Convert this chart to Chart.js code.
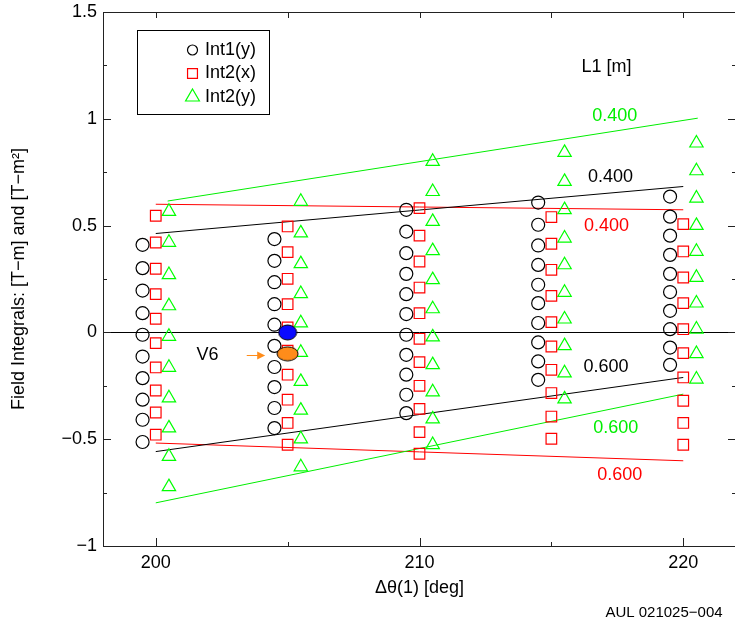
<!DOCTYPE html>
<html><head><meta charset="utf-8">
<script src="https://cdn.jsdelivr.net/npm/chart.js@4/dist/chart.umd.min.js"></script>
<style>
html,body{margin:0;padding:0;background:#fff;overflow:hidden;}
#wrap{position:relative;width:745px;height:628px;}
</style></head><body>
<div id="wrap"><canvas id="c"></canvas></div>
<script>
// ---- data ----
const int1yX = [199.5, 204.5, 209.5, 214.5, 219.5];
const int2xX = [200, 205, 210, 215, 220];
const int2yX = [200.5, 205.5, 210.5, 215.5, 220.5];

const int1y = [
  [0.41, 0.301, 0.196, 0.09, -0.011, -0.113, -0.214, -0.315, -0.409, -0.513],
  [0.437, 0.335, 0.235, 0.132, 0.036, -0.063, -0.162, -0.256, -0.354, -0.448],
  [0.574, 0.472, 0.371, 0.274, 0.179, 0.086, -0.011, -0.105, -0.198, -0.292, -0.378],
  [0.608, 0.504, 0.407, 0.316, 0.223, 0.137, 0.044, -0.047, -0.136, -0.222],
  [0.636, 0.542, 0.453, 0.363, 0.274, 0.189, 0.101, 0.015, -0.071, -0.152]
];
const int2x = [
  [0.546, 0.421, 0.298, 0.179, 0.064, -0.05, -0.164, -0.272, -0.375, -0.479],
  [0.496, 0.376, 0.251, 0.132, 0.023, -0.086, -0.198, -0.315, -0.424, -0.526],
  [0.582, 0.453, 0.332, 0.21, 0.09, -0.03, -0.139, -0.25, -0.358, -0.467, -0.568],
  [0.54, 0.415, 0.293, 0.171, 0.048, -0.066, -0.175, -0.284, -0.394, -0.498],
  [0.507, 0.379, 0.257, 0.137, 0.015, -0.097, -0.211, -0.32, -0.424, -0.526]
];
const int2y = [
  [0.566, 0.421, 0.27, 0.124, -0.019, -0.164, -0.307, -0.448, -0.581, -0.723],
  [0.613, 0.465, 0.321, 0.181, 0.044, -0.094, -0.23, -0.365, -0.499, -0.63],
  [0.8, 0.659, 0.519, 0.382, 0.246, 0.11, -0.022, -0.152, -0.279, -0.406, -0.526],
  [0.842, 0.706, 0.574, 0.441, 0.316, 0.187, 0.062, -0.063, -0.19, -0.312],
  [0.886, 0.756, 0.628, 0.5, 0.379, 0.257, 0.137, 0.015, -0.1, -0.219]
];

// fitted lines, L1 = 0.400 and 0.600 m  ([x0, x1], [y0, y1])
const lineGreen400X = [200.45, 220.55], lineGreen400Y = [0.615, 1.003];
const lineBlack400X = [200, 220],       lineBlack400Y = [0.463, 0.683];
const lineRed400X   = [200, 220],       lineRed400Y   = [0.600, 0.574];
const lineBlack600X = [200, 220],       lineBlack600Y = [-0.558, -0.211];
const lineGreen600X = [200, 220],       lineGreen600Y = [-0.798, -0.289];
const lineRed600X   = [200, 220],       lineRed600Y   = [-0.518, -0.601];

// V6 points
const v6BlueX = [205], v6BlueY = [0.0];
const v6OrangeX = [205], v6OrangeY = [-0.10];

// tick labels
const xTickLabels = ['200', '210', '220'];
const yTickLabels = ['1.5', '1', '0.5', '0', '\u22120.5', '\u22121'];

// annotation texts [text, x, y, color]
const lineLabels = [
  ['L1 [m]', 217.09, 1.241, '#000000'],
  ['0.400', 217.4, 1.015, '#00ee00'],
  ['0.400', 217.24, 0.727, '#000000'],
  ['0.400', 217.09, 0.499, '#ff0000'],
  ['0.600', 217.07, -0.164, '#000000'],
  ['0.600', 217.44, -0.448, '#00ee00'],
  ['0.600', 217.59, -0.666, '#ff0000']
];
const v6Label = ['V6', 201.96, -0.105];
const v6ArrowX = [203.45, 204.15], v6ArrowY = -0.105;

// ---- build ----
const FONT = "'Liberation Sans', Arial, Helvetica, sans-serif";
Chart.defaults.font.family = FONT;
Chart.defaults.font.size = 18;
Chart.defaults.color = '#000';

function pts(xs, groups) {
  const out = [];
  groups.forEach((vals, g) => vals.forEach(v => out.push({x: xs[g], y: v})));
  return out;
}
function seg(xs, ys) { return [{x: xs[0], y: ys[0]}, {x: xs[1], y: ys[1]}]; }
function ellipse(w, h, fill) {
  const c = document.createElement('canvas');
  c.width = w + 2; c.height = h + 2;
  const g = c.getContext('2d');
  g.beginPath();
  g.ellipse(c.width / 2, c.height / 2, w / 2, h / 2, 0, 0, Math.PI * 2);
  g.fillStyle = fill; g.fill();
  g.lineWidth = 1; g.strokeStyle = '#000'; g.stroke();
  return c;
}

function lineDS(xs, ys, color) {
  return {data: seg(xs, ys), showLine: true, borderColor: color, borderWidth: 1,
          pointRadius: 0, pointHoverRadius: 0, fill: false};
}

const decor = {
  id: 'decor',
  beforeDatasetsDraw(chart) {
    const {ctx, chartArea: a, scales: {x, y}} = chart;
    ctx.save();
    ctx.strokeStyle = '#000'; ctx.lineWidth = 1;
    const y0 = Math.round(y.getPixelForValue(0)) + 0.5;
    ctx.beginPath(); ctx.moveTo(a.left, y0); ctx.lineTo(a.right, y0); ctx.stroke();
    ctx.restore();
  },
  afterDatasetsDraw(chart) {
    const {ctx, chartArea: a, scales: {x, y}} = chart;
    ctx.save();
    // frame
    ctx.strokeStyle = '#222'; ctx.lineWidth = 1;
    ctx.strokeRect(Math.round(a.left) + 0.5, Math.round(a.top) + 0.5,
                   Math.round(a.right - a.left), Math.round(a.bottom - a.top));
    // y ticks (inward, both sides)
    ctx.beginPath();
    for (let v = -1; v <= 1.5001; v += 0.25) {
      const py = Math.round(y.getPixelForValue(v)) + 0.5;
      const major = Math.abs(v * 2 - Math.round(v * 2)) < 1e-6;
      const L = major ? 8 : 4;
      ctx.moveTo(a.left, py); ctx.lineTo(a.left + L, py);
      ctx.moveTo(a.right, py); ctx.lineTo(a.right - L, py);
    }
    // x ticks
    for (let v = 200; v <= 220; v += 5) {
      const px = Math.round(x.getPixelForValue(v)) + 0.5;
      const major = v % 10 === 0;
      ctx.moveTo(px, a.bottom); ctx.lineTo(px, a.bottom - (major ? 8 : 4));
      ctx.moveTo(px, a.top); ctx.lineTo(px, a.top + 6);
    }
    ctx.stroke();

    // line labels
    ctx.font = '18px ' + FONT;
    ctx.textAlign = 'center'; ctx.textBaseline = 'middle';
    lineLabels.forEach(([t, vx, vy, col]) => {
      ctx.fillStyle = col;
      ctx.fillText(t, x.getPixelForValue(vx), y.getPixelForValue(vy));
    });
    // V6 label + arrow
    ctx.fillStyle = '#000';
    ctx.fillText(v6Label[0], x.getPixelForValue(v6Label[1]), y.getPixelForValue(v6Label[2]));
    const ax0 = x.getPixelForValue(v6ArrowX[0]), ax1 = x.getPixelForValue(v6ArrowX[1]);
    const ay = Math.round(y.getPixelForValue(v6ArrowY)) + 0.5;
    ctx.strokeStyle = '#ff8c1a'; ctx.fillStyle = '#ff8c1a'; ctx.lineWidth = 1;
    ctx.beginPath(); ctx.moveTo(ax0, ay); ctx.lineTo(ax1 - 6, ay); ctx.stroke();
    ctx.beginPath(); ctx.moveTo(ax1, ay); ctx.lineTo(ax1 - 8, ay - 4); ctx.lineTo(ax1 - 8, ay + 4); ctx.closePath(); ctx.fill();

    // legend
    ctx.strokeStyle = '#000'; ctx.lineWidth = 1;
    ctx.strokeRect(137.5, 30.5, 132, 84);
    const items = [
      ['Int1(y)', 'circle', '#000000', 5, 50],
      ['Int2(x)', 'rect', '#ff0000', 7, 73.5],
      ['Int2(y)', 'triangle', '#00ff00', 8, 97]
    ];
    items.forEach(([t, st, col, r, py]) => {
      ctx.save();
      ctx.strokeStyle = col; ctx.lineWidth = 1.2; ctx.fillStyle = 'rgba(0,0,0,0)';
      Chart.helpers.drawPoint(ctx, {pointStyle: st, radius: r, rotation: 0, borderWidth: 1.2}, 192.5, py);
      ctx.restore();
      ctx.fillStyle = '#000'; ctx.textAlign = 'left'; ctx.textBaseline = 'middle';
      ctx.fillText(t, 205, py);
    });
    ctx.restore();

    // footnote
    ctx.save();
    ctx.font = '15px ' + FONT; ctx.fillStyle = '#000';
    ctx.textAlign = 'center'; ctx.textBaseline = 'middle';
    ctx.fillText('AUL 021025\u2212004', 664, 613);
    ctx.restore();
  }
};

const mkStyle = (color, style, r) => ({
  showLine: false, pointStyle: style, pointRadius: r, pointHoverRadius: r,
  borderColor: color, backgroundColor: 'rgba(0,0,0,0)', pointBorderWidth: 1.2, borderWidth: 1.2
});

new Chart(document.getElementById('c'), {
  type: 'scatter',
  data: {
    datasets: [
      {data: [{x: v6BlueX[0], y: v6BlueY[0]}], pointStyle: ellipse(18, 15, '#0a0aff'), pointRadius: 8},
      {data: [{x: v6OrangeX[0], y: v6OrangeY[0]}], pointStyle: ellipse(21, 14, '#ff8c1a'), pointRadius: 8},
      Object.assign({data: pts(int1yX, int1y)}, mkStyle('#000000', 'circle', 6.5)),
      Object.assign({data: pts(int2xX, int2x)}, mkStyle('#ff0000', 'rect', 7.5)),
      Object.assign({data: pts(int2yX, int2y)}, mkStyle('#00ff00', 'triangle', 7.7)),
      lineDS(lineGreen400X, lineGreen400Y, '#00ee00'),
      lineDS(lineBlack400X, lineBlack400Y, '#000000'),
      lineDS(lineRed400X, lineRed400Y, '#ff0000'),
      lineDS(lineBlack600X, lineBlack600Y, '#000000'),
      lineDS(lineGreen600X, lineGreen600Y, '#00ee00'),
      lineDS(lineRed600X, lineRed600Y, '#ff0000')
    ]
  },
  options: {
    responsive: true, maintainAspectRatio: false, animation: false,
    events: [],
    layout: {padding: {top: 12, right: 5, bottom: 0, left: 0}},
    plugins: {legend: {display: false}, tooltip: {enabled: false}},
    scales: {
      x: {
        type: 'linear', min: 198, max: 222,
        grid: {display: false, drawTicks: false},
        border: {display: false},
        ticks: {stepSize: 5, includeBounds: false, padding: 6, maxRotation: 0, autoSkip: false,
          callback: v => (v % 10 === 0 ? xTickLabels[(v - 200) / 10] : '')},
        title: {display: true, text: '\u0394\u03b8(1) [deg]', font: {size: 18}, padding: {top: 0, bottom: 29}},
        afterFit: s => { s.height = 82; s.paddingLeft = 0; s.paddingRight = 0; }
      },
      y: {
        type: 'linear', min: -1, max: 1.5,
        grid: {display: false, drawTicks: false},
        border: {display: false},
        ticks: {stepSize: 0.5, padding: 6, autoSkip: false,
          callback: v => yTickLabels[Math.round((1.5 - v) / 0.5)]},
        title: {display: true, text: 'Field Integrals: [T\u2212m] and [T\u2212m\u00b2]', font: {size: 18}, padding: {top: 8, bottom: 0}},
        afterFit: s => { s.width = 103; s.paddingTop = 0; s.paddingBottom = 0; }
      }
    }
  },
  plugins: [decor]
});
</script>
</body></html>
